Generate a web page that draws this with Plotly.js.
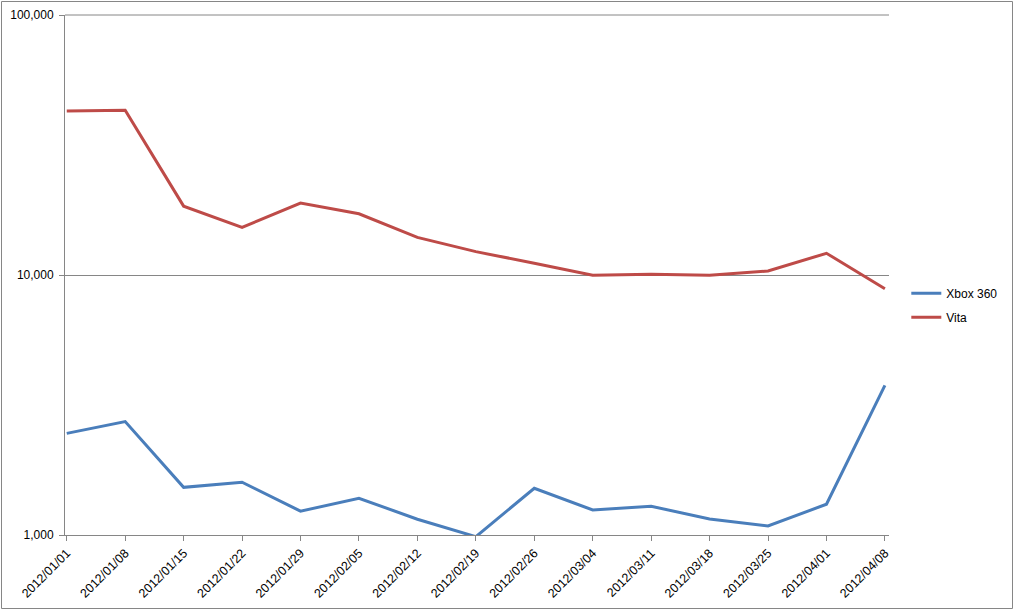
<!DOCTYPE html>
<html>
<head>
<meta charset="utf-8">
<script src="https://cdn.plot.ly/plotly-3.0.1.min.js"></script>
<style>
  html, body { margin: 0; padding: 0; background: #fff; }
  #chart { width: 1014px; height: 611px; }
</style>
</head>
<body>
<div id="chart"></div>
<script>
const weeks = ["2012/01/01","2012/01/08","2012/01/15","2012/01/22","2012/01/29","2012/02/05","2012/02/12","2012/02/19","2012/02/26","2012/03/04","2012/03/11","2012/03/18","2012/03/25","2012/04/01","2012/04/08"];
const xbox360 = [2460, 2730, 1525, 1595, 1235, 1385, 1150, 985, 1512, 1248, 1290, 1152, 1083, 1313, 3765];
const vita = [42700, 43000, 18400, 15250, 18900, 17200, 13950, 12300, 11100, 9970, 10060, 9970, 10360, 12120, 8860];
const yTickVals = [1000, 10000, 100000];
const yTickText = ["1,000", "10,000", "100,000"];

const gray = "#868686";
const font = { family: "Liberation Sans, Arial, sans-serif", size: 12, color: "#000" };
const xfont = { family: "Liberation Sans, Arial, sans-serif", size: 12.5, color: "#000" };

const traces = [
  { x: weeks, y: xbox360, name: "Xbox 360", type: "scatter", mode: "lines",
    line: { color: "#4A7EBB", width: 3 }, legendgroup: "a" },
  { x: weeks, y: vita, name: "Vita", type: "scatter", mode: "lines",
    line: { color: "#BE4B48", width: 3 }, legendgroup: "b" }
];

const layout = {
  width: 1014, height: 611,
  margin: { l: 65, r: 125, t: 15, b: 76, autoexpand: false },
  paper_bgcolor: "#fff", plot_bgcolor: "#fff",
  font: font,
  showlegend: true,
  legend: { x: 1.021, xanchor: "left", y: 0.442, yanchor: "middle",
    traceorder: "grouped", tracegroupgap: 5, font: font, bgcolor: "rgba(0,0,0,0)" },
  xaxis: {
    type: "category", range: [-0.03, 14.07], automargin: false,
    showgrid: false, zeroline: false,
    showline: true, linecolor: gray, linewidth: 1,
    ticks: "outside", ticklen: 5, tickcolor: gray, tickwidth: 1,
    tickangle: -45, tickfont: xfont
  },
  yaxis: {
    type: "log", range: [3, 5], automargin: false,
    tickvals: yTickVals, ticktext: yTickText,
    showgrid: true, gridcolor: gray, gridwidth: 1,
    zeroline: false,
    showline: true, linecolor: gray, linewidth: 1,
    ticks: "outside", ticklen: 5, tickcolor: gray, tickwidth: 1,
    ticklabelstandoff: 3,
    tickfont: font
  },
  shapes: [
    { type: "rect", xref: "paper", yref: "paper",
      x0: (1.5 - 65) / 824, x1: (1012.5 - 65) / 824,
      y0: (535 - 608.5) / 520, y1: (535 - 1.5) / 520,
      line: { color: gray, width: 1 }, fillcolor: "rgba(0,0,0,0)", layer: "below" },
    { type: "line", xref: "paper", yref: "paper", x0: 0, x1: 1, y0: 1, y1: 1,
      line: { color: gray, width: 1 }, layer: "below" }
  ]
};

Plotly.newPlot("chart", traces, layout, { staticPlot: true, displayModeBar: false });
</script>
</body>
</html>
